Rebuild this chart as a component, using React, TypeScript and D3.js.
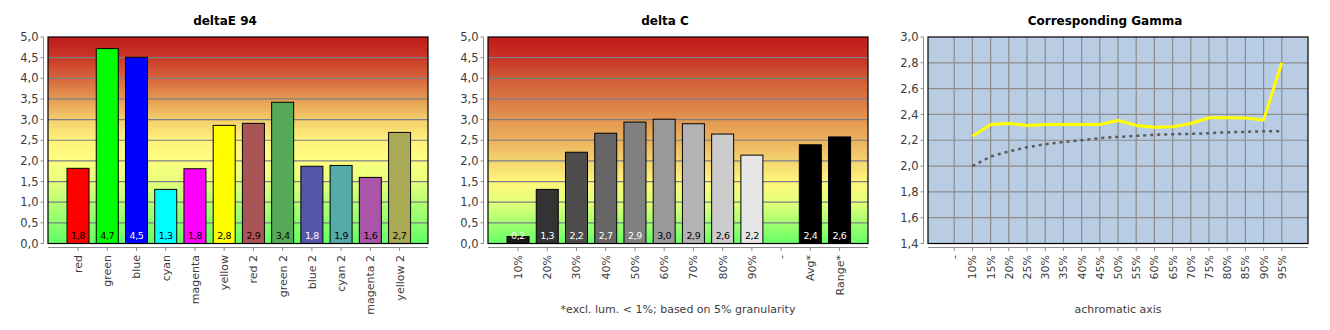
import React from 'react';
import * as d3 from 'd3';

// ---------- data ----------
const deltaECategories = ['red', 'green', 'blue', 'cyan', 'magenta', 'yellow', 'red 2', 'green 2', 'blue 2', 'cyan 2', 'magenta 2', 'yellow 2'];
const deltaEValues = [1.82, 4.72, 4.51, 1.31, 1.81, 2.86, 2.91, 3.42, 1.87, 1.89, 1.6, 2.69];
const deltaELabels = ['1,8', '4,7', '4,5', '1,3', '1,8', '2,8', '2,9', '3,4', '1,8', '1,9', '1,6', '2,7'];
const deltaEColors = ['#ff0000', '#00ff00', '#0000ff', '#00ffff', '#ff00ff', '#ffff00', '#aa5555', '#55aa55', '#5555aa', '#55aaaa', '#aa55aa', '#aaaa55'];
const deltaELabelColors = ['#000', '#000', '#fff', '#000', '#000', '#000', '#000', '#000', '#fff', '#000', '#000', '#000'];

const deltaCCategories = ['10%', '20%', '30%', '40%', '50%', '60%', '70%', '80%', '90%', '-', 'Avg*', 'Range*'];
const deltaCValues: (number | null)[] = [0.17, 1.31, 2.21, 2.67, 2.94, 3.01, 2.9, 2.65, 2.14, null, 2.39, 2.58];
const deltaCLabels = ['0,2', '1,3', '2,2', '2,7', '2,9', '3,0', '2,9', '2,6', '2,2', '', '2,4', '2,6'];
const deltaCColors = ['#1a1a1a', '#333333', '#4d4d4d', '#666666', '#808080', '#999999', '#b3b3b3', '#cccccc', '#e6e6e6', '#000', '#000000', '#000000'];
const deltaCLabelColors = ['#fff', '#fff', '#fff', '#fff', '#fff', '#000', '#000', '#000', '#000', '#000', '#fff', '#fff'];

const gammaCategories = ['-', '10%', '15%', '20%', '25%', '30%', '35%', '40%', '45%', '50%', '55%', '60%', '65%', '70%', '75%', '80%', '85%', '90%', '95%'];
const gammaMeasured: (number | null)[] = [null, 2.231, 2.322, 2.33, 2.315, 2.322, 2.322, 2.322, 2.322, 2.353, 2.315, 2.3, 2.305, 2.33, 2.374, 2.374, 2.372, 2.356, 2.8];
const gammaReference: (number | null)[] = [null, 2.0, 2.073, 2.114, 2.145, 2.169, 2.187, 2.2, 2.216, 2.226, 2.234, 2.242, 2.247, 2.249, 2.255, 2.262, 2.265, 2.27, 2.27];

const barTicks = [0, 0.5, 1, 1.5, 2, 2.5, 3, 3.5, 4, 4.5, 5];
const gammaTicks = [1.4, 1.6, 1.8, 2.0, 2.2, 2.4, 2.6, 2.8, 3.0];

const deltaEGradient: [number, string][] = [
  [5.0, '#c01a1a'], [4.5, '#ca3826'], [4.0, '#d6663c'], [3.5, '#e49a52'], [3.0, '#f3cf6c'],
  [2.5, '#fff27c'], [2.0, '#ffff80'], [1.5, '#e6ff7c'], [1.0, '#b8ff74'], [0.5, '#8cff6c'], [0.0, '#62ff64'],
];
const deltaCGradient: [number, string][] = [
  [5.0, '#c01a1a'], [4.5, '#c83224'], [4.0, '#d05a36'], [3.5, '#da7844'], [3.0, '#e3964f'],
  [2.5, '#ebb25e'], [2.0, '#f5d370'], [1.5, '#fff67c'], [1.0, '#e6ff7a'], [0.5, '#a6ff70'], [0.0, '#66ff66'],
];

// ---------- layout ----------
const PANEL_OFFSETS = [0, 440, 880];
const PLOT_LEFT = 48;
const PLOT_W = 380;
const PLOT_TOP = 37;
const PLOT_BOTTOM = 243.5;
const FONT = '"DejaVu Sans", Verdana, sans-serif';
const TEXT_GRAY = '#3c3c3c';
const fmt = (v: number) => d3.format('.1f')(v).replace('.', ',');

type AxisProps = {
  ox: number;
  title: string;
  footer?: string;
  y: d3.ScaleLinear<number, number>;
  ticks: number[];
  x: d3.ScalePoint<string>;
  categories: string[];
  children?: React.ReactNode;
  background: React.ReactNode;
};

function Panel({ ox, title, footer, y, ticks, x, categories, children, background }: AxisProps) {
  const left = ox + PLOT_LEFT;
  const right = left + PLOT_W;
  return (
    <g>
      <text x={ox + 225} y={25} textAnchor="middle" fontFamily={FONT} fontWeight="bold" fontSize={12} fill="#000">
        {title}
      </text>
      {background}
      {children}
      <rect x={left} y={PLOT_TOP} width={PLOT_W} height={PLOT_BOTTOM - PLOT_TOP} fill="none" stroke="#000" strokeWidth={1.2} />
      {/* y axis */}
      <line x1={left - 4.5} x2={left - 4.5} y1={PLOT_TOP} y2={PLOT_BOTTOM} stroke="#8c8c8c" strokeWidth={1} />
      {ticks.map((t) => (
        <g key={t}>
          <line x1={left - 7.5} x2={left - 4.5} y1={y(t)} y2={y(t)} stroke="#8c8c8c" />
          <text x={left - 9.5} y={y(t)} dy="0.36em" textAnchor="end" fontFamily={FONT} fontSize={11.5} fill={TEXT_GRAY}>
            {fmt(t)}
          </text>
        </g>
      ))}
      {/* x axis */}
      <line x1={left} x2={right} y1={PLOT_BOTTOM + 4} y2={PLOT_BOTTOM + 4} stroke="#8c8c8c" />
      {categories.map((c) => (
        <g key={c}>
          <line x1={x(c)} x2={x(c)} y1={PLOT_BOTTOM + 4} y2={PLOT_BOTTOM + 7.5} stroke="#8c8c8c" />
          <text
            transform={`translate(${x(c)},${PLOT_BOTTOM + 11.5}) rotate(-90)`}
            dy="0.36em"
            textAnchor="end"
            fontFamily={FONT}
            fontSize={11}
            fill={TEXT_GRAY}
          >
            {c}
          </text>
        </g>
      ))}
      {footer && (
        <text x={(left + right) / 2} y={313} textAnchor="middle" fontFamily={FONT} fontSize={11} fill={TEXT_GRAY}>
          {footer}
        </text>
      )}
    </g>
  );
}

function GradientDef({ id, stops, y }: { id: string; stops: [number, string][]; y: d3.ScaleLinear<number, number> }) {
  const span = PLOT_BOTTOM - PLOT_TOP;
  return (
    <linearGradient id={id} gradientUnits="userSpaceOnUse" x1={0} x2={0} y1={PLOT_TOP} y2={PLOT_BOTTOM}>
      {stops.map(([v, c]) => (
        <stop key={v} offset={(y(v) - PLOT_TOP) / span} stopColor={c} />
      ))}
    </linearGradient>
  );
}

function BarPanel({
  ox, title, footer, categories, values, labels, colors, labelColors, gradId,
}: {
  ox: number; title: string; footer?: string; categories: string[]; values: (number | null)[];
  labels: string[]; colors: string[]; labelColors: string[]; gradId: string;
}) {
  const left = ox + PLOT_LEFT;
  const y = d3.scaleLinear().domain([0, 5]).range([PLOT_BOTTOM, PLOT_TOP]);
  const x = d3.scalePoint<string>().domain(categories).range([left + 0.8, left + PLOT_W + 0.8]).padding(1);
  const barW = 22;
  const bg = (
    <g>
      <rect x={left} y={PLOT_TOP} width={PLOT_W} height={PLOT_BOTTOM - PLOT_TOP} fill={`url(#${gradId})`} />
      {barTicks.slice(1, -1).map((t) => (
        <line key={t} x1={left} x2={left + PLOT_W} y1={y(t)} y2={y(t)} stroke="#7a7f87" strokeWidth={1.2} />
      ))}
    </g>
  );
  return (
    <Panel ox={ox} title={title} footer={footer} y={y} ticks={barTicks} x={x} categories={categories} background={bg}>
      {categories.map((c, i) => {
        const v = values[i];
        if (v == null) return null;
        const cx = x(c) as number;
        return (
          <g key={c}>
            <rect x={cx - barW / 2} y={y(v)} width={barW} height={PLOT_BOTTOM - y(v)} fill={colors[i]} stroke="#000" strokeWidth={1} />
            <text x={cx} y={239} textAnchor="middle" fontFamily={FONT} fontSize={9.5} letterSpacing={-0.4} fill={labelColors[i]}>
              {labels[i]}
            </text>
          </g>
        );
      })}
    </Panel>
  );
}

function GammaPanel({ ox }: { ox: number }) {
  const left = ox + PLOT_LEFT;
  const y = d3.scaleLinear().domain([1.4, 3.0]).range([PLOT_BOTTOM, PLOT_TOP]);
  const x = d3.scalePoint<string>().domain(gammaCategories).range([left, left + PLOT_W]).padding(1.44);
  const line = d3
    .line<number | null>()
    .defined((d) => d != null)
    .x((_, i) => x(gammaCategories[i]) as number)
    .y((d) => y(d as number));
  const bg = (
    <g>
      <rect x={left} y={PLOT_TOP} width={PLOT_W} height={PLOT_BOTTOM - PLOT_TOP} fill="#b8cce4" />
      {gammaTicks.slice(1, -1).map((t) => (
        <line key={t} x1={left} x2={left + PLOT_W} y1={y(t)} y2={y(t)} stroke="#8c8c8c" strokeWidth={1.2} />
      ))}
      {gammaCategories.map((c) => (
        <line key={c} x1={x(c)} x2={x(c)} y1={PLOT_TOP} y2={PLOT_BOTTOM} stroke="#8c8c8c" strokeWidth={1.2} />
      ))}
    </g>
  );
  return (
    <Panel ox={ox} title="Corresponding Gamma" footer="achromatic axis" y={y} ticks={gammaTicks} x={x} categories={gammaCategories} background={bg}>
      <path d={line(gammaReference) || ''} fill="none" stroke="#5a5a5a" strokeWidth={2.5} strokeDasharray="3,4" />
      <path d={line(gammaMeasured) || ''} fill="none" stroke="#ffff00" strokeWidth={3} strokeLinejoin="round" />
    </Panel>
  );
}

export default function App() {
  const yBar = d3.scaleLinear().domain([0, 5]).range([PLOT_BOTTOM, PLOT_TOP]);
  return (
    <svg
      width={1330}
      height={330}
      style={{ position: 'absolute', left: 0, top: 0, background: '#fff' }}
      shapeRendering="auto"
    >
      <defs>
        <GradientDef id="gradE" stops={deltaEGradient} y={yBar} />
        <GradientDef id="gradC" stops={deltaCGradient} y={yBar} />
      </defs>
      <rect width={1330} height={330} fill="#fff" />
      <BarPanel
        ox={PANEL_OFFSETS[0]}
        title="deltaE 94"
        categories={deltaECategories}
        values={deltaEValues}
        labels={deltaELabels}
        colors={deltaEColors}
        labelColors={deltaELabelColors}
        gradId="gradE"
      />
      <BarPanel
        ox={PANEL_OFFSETS[1]}
        title="delta C"
        footer="*excl. lum. < 1%; based on 5% granularity"
        categories={deltaCCategories}
        values={deltaCValues}
        labels={deltaCLabels}
        colors={deltaCColors}
        labelColors={deltaCLabelColors}
        gradId="gradC"
      />
      <GammaPanel ox={PANEL_OFFSETS[2]} />
    </svg>
  );
}
